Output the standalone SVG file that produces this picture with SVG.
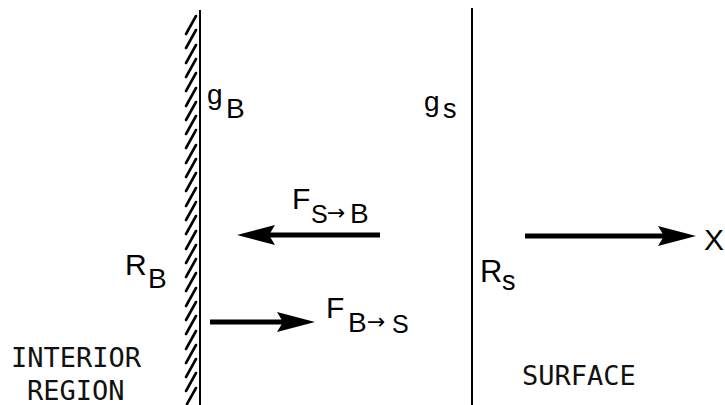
<svg xmlns="http://www.w3.org/2000/svg" width="725" height="405" viewBox="0 0 725 405">
<style>
.lbl{font-family:"Liberation Sans",Arial,sans-serif;fill:#000}
.mono{font-family:"DejaVu Sans Mono","Liberation Mono",monospace;font-size:27px;fill:#111}
.arr{font-family:"DejaVu Sans",sans-serif;font-size:22px;fill:#000}
.wall{stroke:#000;stroke-width:2;fill:none}
.hatch{stroke:#000;stroke-width:2.6;stroke-linecap:round;fill:none}
.shaft{stroke:#000;stroke-width:5;fill:none;marker-end:url(#head)}
</style>
<defs>
<marker id="head" markerUnits="userSpaceOnUse" viewBox="0 0 38 20" refX="6" refY="10" markerWidth="38" markerHeight="20" orient="auto">
<path d="M0,0 L38,10 L0,20 L6,10 Z" fill="#000"/>
</marker>
</defs>
<rect width="725" height="405" fill="#fff"/>
<g id="interior-wall">
<line class="wall" x1="200" y1="10" x2="200" y2="405"/>
<path class="hatch" d="M196,16 L186,34 M196,30 L186,48 M196,45 L186,63 M196,59 L186,77 M196,73 L186,91 M196,88 L186,106 M196,102 L186,120 M196,116 L186,134 M196,130 L186,148 M196,145 L186,163 M196,159 L186,177 M196,173 L186,191 M196,188 L186,206 M196,202 L186,220 M196,216 L186,234 M196,231 L186,249 M196,245 L186,263 M196,259 L186,277 M196,273 L186,291 M196,288 L186,306 M196,302 L186,320 M196,316 L186,334 M196,331 L186,349 M196,345 L186,363 M196,359 L186,377 M196,373 L186,391 M196,388 L187,404"/>
</g>
<g id="surface-line">
<line class="wall" x1="472" y1="8" x2="472" y2="405" stroke-width="1.6"/>
</g>
<g id="label-gB">
<text class="lbl" x="207" y="104" font-size="28">g</text>
<text class="lbl" x="226" y="118" font-size="28">B</text>
</g>
<g id="label-gS">
<text class="lbl" x="424" y="111" font-size="28">g</text>
<text class="lbl" x="443" y="118" font-size="27">s</text>
</g>
<g id="label-RB">
<text class="lbl" x="125" y="275" font-size="30">R</text>
<text class="lbl" x="148" y="288" font-size="28">B</text>
</g>
<g id="label-RS">
<text class="lbl" x="480" y="282" font-size="31">R</text>
<text class="lbl" x="502" y="290" font-size="27">s</text>
</g>
<g id="label-FSB">
<text class="lbl" x="292" y="209" font-size="30">F</text>
<text class="lbl" x="311" y="223" font-size="25">S</text>
<text class="arr" x="327" y="220">→</text>
<text class="lbl" x="350" y="223" font-size="28">B</text>
</g>
<g id="label-FBS">
<text class="lbl" x="326" y="318" font-size="30">F</text>
<text class="lbl" x="348" y="332" font-size="28">B</text>
<text class="arr" x="367" y="329">→</text>
<text class="lbl" x="392" y="333" font-size="25">S</text>
</g>
<g id="label-X">
<text class="lbl" x="704" y="250" font-size="30">X</text>
</g>
<g id="label-interior">
<text class="mono" x="11" y="367">INTERIOR</text>
<text class="mono" x="27" y="400">REGION</text>
</g>
<g id="label-surface">
<text class="mono" x="522" y="385">SURFACE</text>
</g>
<g id="connectors">
<line class="shaft" x1="380" y1="235" x2="269" y2="235"/>
<line class="shaft" x1="210" y1="322" x2="283" y2="322"/>
<line class="shaft" x1="525" y1="236" x2="664" y2="236"/>
</g>
</svg>
